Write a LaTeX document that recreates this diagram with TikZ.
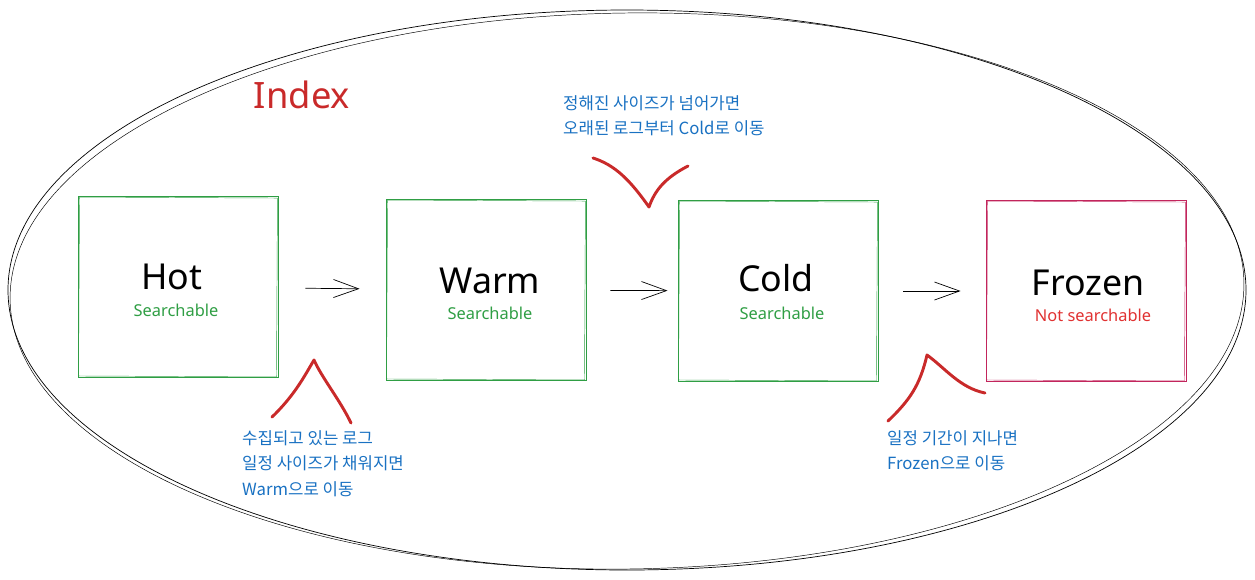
\documentclass[tikz,border=0pt]{standalone}
\usepackage{fontspec}
\setmainfont{Noto Sans}
\newfontfamily\krfont{Noto Sans CJK KR}
\usetikzlibrary{arrows.meta, positioning, calc}

\definecolor{tiergreen}{HTML}{2F9E44}
\definecolor{tiercrimson}{HTML}{C2255C}
\definecolor{statered}{HTML}{E03131}
\definecolor{scribblered}{HTML}{C92A2A}
\definecolor{noteblue}{HTML}{1971C2}

\tikzset{
  tierbox/.style={draw=#1, line width=0.8pt, minimum width=6cm, minimum height=5.43cm, inner sep=0pt},
  tiername/.style={font=\fontsize{30.5}{34}\selectfont, text=black},
  tierstate/.style={font=\fontsize{14}{16}\selectfont},
  flow/.style={line width=0.6pt, -{Straight Barb[length=0.75cm, width=0.54cm, line width=0.6pt]}},
  scribble/.style={draw=scribblered, line width=2.5pt, line cap=round, line join=round},
  note/.style={font=\krfont\fontsize{14.3}{22}\selectfont, text=noteblue, align=left, inner sep=0pt, anchor=north west}
}

\begin{document}
\begin{tikzpicture}[x=0.03cm, y=-0.03cm]
\useasboundingbox (0,0) rectangle (1255,579);

% index boundary
\draw[line width=0.6pt] (627,290) ellipse [x radius=619, y radius=280];
\draw[line width=0.4pt, rotate around={0.8:(627,290)}] (627,291) ellipse [x radius=617, y radius=278];
\node[font=\fontsize{31}{34}\selectfont, text=scribblered] (indexlabel) at (302,95) {Index};

% tiers
\node[tierbox=tiergreen] (hot) at (178,287) {};
\node[tierbox=tiergreen] (warm) at (486,290) {};
\node[tierbox=tiergreen] (cold) at (778,291) {};
\node[tierbox=tiercrimson] (frozen) at (1086,291) {};
\foreach \n/\c in {hot/tiergreen, warm/tiergreen, cold/tiergreen, frozen/tiercrimson}
  \draw[\c, line width=0.4pt] ([shift={(2,1)}]\n.north west) -- ([shift={(-1,2)}]\n.north east)
    -- ([shift={(-2,-1)}]\n.south east) -- ([shift={(1,-2)}]\n.south west) -- cycle;

\node[tiername] (hotname) at (172,277) {Hot};
\node[tierstate, text=tiergreen] (hotstate) at (176,310) {Searchable};
\node[tiername] (warmname) at (490,281) {Warm};
\node[tierstate, text=tiergreen] (warmstate) at (490,313) {Searchable};
\node[tiername] (coldname) at (776,278) {Cold};
\node[tierstate, text=tiergreen] (coldstate) at (782,313) {Searchable};
\node[tiername] (frozenname) at (1088,283) {Frozen};
\node[tierstate, text=statered] (frozenstate) at (1093,315) {Not searchable};

% moves between tiers
\draw[flow, shorten <=0.81cm, shorten >=0.78cm] (hot) -- (warm);
\draw[flow, shorten <=0.72cm, shorten >=0.3cm] (warm) -- (cold);
\draw[flow, shorten <=0.75cm, shorten >=0.75cm] (cold) -- (frozen);

% notes
\draw[scribble] (272,417) .. controls (295,395) and (305,375) .. (314,360)
  .. controls (322,378) and (340,400) .. (351,423);
\draw[scribble] (593,158) .. controls (615,165) and (630,180) .. (649,207)
  .. controls (655,190) and (665,178) .. (688,166);
\draw[scribble] (888,421) .. controls (910,400) and (920,385) .. (927,355)
  .. controls (945,368) and (960,388) .. (985,393);

\node[note] (hotnote) at (242,430) {수집되고 있는 로그\\일정 사이즈가 채워지면\\Warm으로 이동};
\node[note] (warmnote) at (563,95) {정해진 사이즈가 넘어가면\\오래된 로그부터 Cold로 이동};
\node[note] (coldnote) at (887,430) {일정 기간이 지나면\\Frozen으로 이동};
\end{tikzpicture}
\end{document}
